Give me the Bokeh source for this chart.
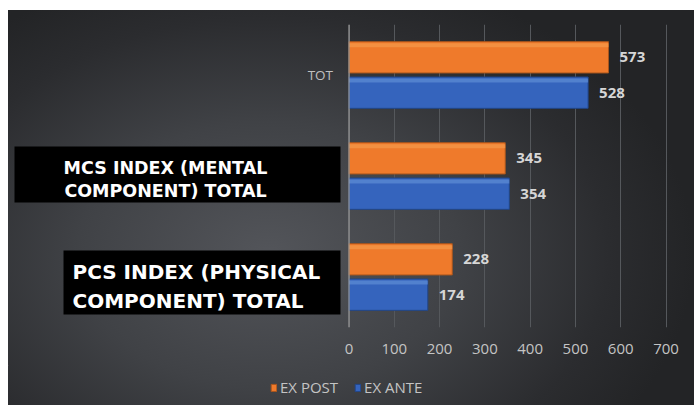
from bokeh.plotting import figure
from bokeh.layouts import column
from bokeh.models import (FactorRange, Range1d, ColumnDataSource, FixedTicker,
                          Span, Legend, LegendItem)
from bokeh.transform import dodge
from bokeh.core.properties import value
from bokeh.embed import file_html
from bokeh.resources import INLINE

# ---------------- data ----------------
categories = ["PCS INDEX (PHYSICAL COMPONENT) TOTAL",
              "MCS INDEX (MENTAL COMPONENT) TOTAL",
              "TOT"]                       # bottom -> top
category_text = ["PCS INDEX (PHYSICAL\nCOMPONENT) TOTAL",
                 "MCS INDEX (MENTAL\nCOMPONENT) TOTAL",
                 "TOT"]
ex_post = [228, 345, 573]
ex_ante = [174, 354, 528]
series_names = ["EX POST", "EX ANTE"]
x_ticks = [0, 100, 200, 300, 400, 500, 600, 700]

# ---------------- geometry / style ----------------
W, H_MAIN, H_LEG = 686, 355, 40   # drawn area (page margin top 10, left 8)
ZERO_PX = 340.5                   # canvas px of value 0
PPU = (657.5 - ZERO_PX) / 700.0   # px per unit (700 -> canvas 657.5)
x_start = -ZERO_PX / PPU
x_end = (W - ZERO_PX) / PPU


def x_at(canvas_px):
    return (canvas_px - ZERO_PX) / PPU


ORANGE, ORANGE_HI, ORANGE_LO = "#ef7a2b", "#f59a4c", "#a9561d"
BLUE, BLUE_HI, BLUE_LO = "#3564bd", "#5f8dd6", "#21468a"
GRID = "#55585c"
LIGHT = "#c4c4c4"
FONT = "Open Sans"
NUM_FONT = value(FONT)
BOX_FONT = value("DejaVu Sans")

src = ColumnDataSource(dict(
    cat=categories, text=category_text, ex_post=ex_post, ex_ante=ex_ante,
    post_lbl=[str(v) for v in ex_post], ante_lbl=[str(v) for v in ex_ante],
))

p = figure(width=W, height=H_MAIN,
           y_range=FactorRange(*categories, range_padding=0),
           x_range=Range1d(x_start, x_end),
           output_backend="svg", toolbar_location=None,
           y_axis_location=None,
           min_border_left=0, min_border_right=0,
           min_border_top=14, min_border_bottom=38)
p.background_fill_color = None
p.border_fill_color = None
p.outline_line_color = None

p.xaxis.ticker = FixedTicker(ticks=x_ticks)
p.xaxis.axis_line_color = None
p.xaxis.major_tick_line_color = None
p.xaxis.minor_tick_line_color = None
p.xaxis.major_label_standoff = 10
p.xaxis.major_label_text_font = FONT
p.xaxis.major_label_text_font_size = "15px"
p.xaxis.major_label_text_color = LIGHT
p.xgrid.grid_line_color = GRID
p.xgrid.grid_line_width = 1
p.ygrid.grid_line_color = None

# zero line
p.add_layout(Span(location=0, dimension="height", line_color="#9c9c9c", line_width=1.2))

# bars
DY = 0.175
BH = 0.31
post_y = dodge("cat", DY, range=p.y_range)
ante_y = dodge("cat", -DY, range=p.y_range)
r_post = p.hbar(y=post_y, left=0, right="ex_post", height=BH, source=src,
                fill_color=ORANGE, line_color=ORANGE_LO, line_width=1)
p.hbar(y=dodge("cat", DY + 0.12, range=p.y_range), left=0, right="ex_post",
       height=0.04, source=src, fill_color=ORANGE_HI, line_color=None, fill_alpha=0.7)
r_ante = p.hbar(y=ante_y, left=0, right="ex_ante", height=BH, source=src,
                fill_color=BLUE, line_color=BLUE_LO, line_width=1)
p.hbar(y=dodge("cat", -DY + 0.12, range=p.y_range), left=0, right="ex_ante",
       height=0.04, source=src, fill_color=BLUE_HI, line_color=None, fill_alpha=0.7)

# value labels
for yv, xcol, tcol in ((post_y, "ex_post", "post_lbl"), (ante_y, "ex_ante", "ante_lbl")):
    p.text(x=xcol, y=yv, text=tcol, source=src, x_offset=11,
           text_align="left", text_baseline="middle",
           text_font=NUM_FONT, text_font_style="bold", text_font_size="15px",
           text_color="#d6d6d6")

# plain category label (TOT)
tot_src = ColumnDataSource(dict(cat=[categories[2]], text=[category_text[2]]))
p.text(x=0, y="cat", text="text", source=tot_src, x_offset=-16,
       text_align="right", text_baseline="middle",
       text_font=NUM_FONT, text_font_size="13.5px", text_color="#c0c0c0")

# boxed category labels (black label boxes)
UPX = 1.0 / 101.0   # category units per px
box_src = ColumnDataSource(dict(
    left=[x_at(55), x_at(6)],
    right=[x_at(332), x_at(332)],
    bottom=[(categories[0], -37.5 * UPX), (categories[1], -26.5 * UPX)],
    top=[(categories[0], 26.5 * UPX), (categories[1], 29.5 * UPX)],
))
p.quad(left="left", right="right", bottom="bottom", top="top", source=box_src,
       fill_color="black", line_color=None)

pcs_src = ColumnDataSource(dict(x=[x_at(64)], y=[(categories[0], -9.5 * UPX)],
                                text=[category_text[0]]))
p.text(x="x", y="y", text="text", source=pcs_src, text_align="left",
       text_baseline="middle", text_font=BOX_FONT, text_font_style="bold",
       text_font_size="20px", text_color="white", text_line_height=1.23)
mcs_src = ColumnDataSource(dict(x=[x_at(157)], y=[(categories[1], -3 * UPX)],
                                text=[category_text[1]]))
p.text(x="x", y="y", text="text", source=mcs_src, text_align="center",
       text_baseline="middle", text_font=BOX_FONT, text_font_style="bold",
       text_font_size="17.5px", text_color="white", text_line_height=1.15)

# legend strip (its own frame, so the legend is never clipped)
pl = figure(width=W, height=H_LEG, x_range=Range1d(0, 1), y_range=Range1d(0, 1),
            output_backend="svg", toolbar_location=None,
            x_axis_location=None, y_axis_location=None,
            min_border=0)
pl.background_fill_color = None
pl.border_fill_color = None
pl.outline_line_color = None
pl.grid.grid_line_color = None
# legend proxies: one zero-length bar each, placed outside the visible range
lp = pl.hbar(y=[5], right=[0], left=0, height=1,
             fill_color=ORANGE, line_color=ORANGE_LO)
la = pl.hbar(y=[5], right=[0], left=0, height=1,
             fill_color=BLUE, line_color=BLUE_LO)
legend = Legend(items=[LegendItem(label=series_names[0], renderers=[lp]),
                       LegendItem(label=series_names[1], renderers=[la])],
                orientation="horizontal", location=(262, 8),
                glyph_width=7, glyph_height=9, label_height=14,
                label_text_font=FONT, label_text_font_size="15px",
                label_text_color=LIGHT, label_standoff=3, spacing=16,
                margin=0, padding=5,
                background_fill_alpha=0, border_line_color=None)
pl.add_layout(legend, "center")

page = column(p, pl, spacing=0, margin=(10, 0, 0, 8))
page.styles = {"background": "radial-gradient(ellipse 62% 75% at 38% 62%, "
                             "#53555a 0%, #404246 45%, #2b2c2f 80%, #232426 100%)",
               "gap": "0px"}

open("out.html", "w").write(file_html(page, INLINE))
